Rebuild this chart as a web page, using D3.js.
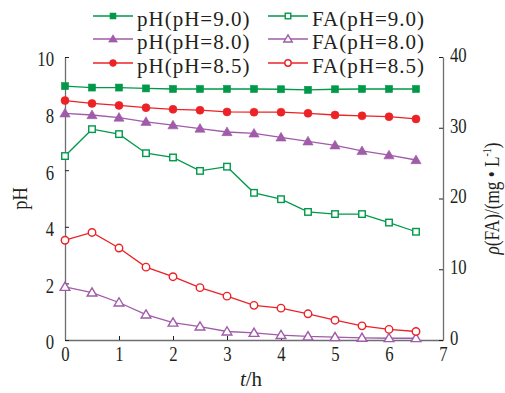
<!DOCTYPE html>
<html>
<head>
<meta charset="utf-8">
<script src="https://cdn.jsdelivr.net/npm/d3@7"></script>
<style>
  body { margin: 0; background: #fff; }
  svg text { font-family: "Liberation Serif", "Times New Roman", Times, serif; fill: #231f20; }
</style>
</head>
<body>
<script>
// time points (h)
var hours = [0, 0.5, 1, 1.5, 2, 2.5, 3, 3.5, 4, 4.5, 5, 5.5, 6, 6.5];

// pH series (left axis)
var ph90 = [8.97, 8.92, 8.92, 8.89, 8.87, 8.87, 8.87, 8.87, 8.86, 8.84, 8.86, 8.87, 8.87, 8.87];
var ph80 = [8.01, 7.95, 7.86, 7.71, 7.59, 7.47, 7.35, 7.30, 7.16, 7.02, 6.88, 6.68, 6.53, 6.36];
var ph85 = [8.46, 8.36, 8.29, 8.21, 8.15, 8.12, 8.06, 8.05, 8.05, 8.01, 7.95, 7.92, 7.89, 7.81];

// FA concentration series (right axis, mg/L)
var fa90 = [26.0, 29.8, 29.1, 26.4, 25.8, 23.9, 24.5, 20.8, 19.9, 18.1, 17.8, 17.8, 16.6, 15.3];
var fa80 = [7.5, 6.7, 5.3, 3.6, 2.45, 1.9, 1.2, 1.0, 0.7, 0.5, 0.4, 0.3, 0.25, 0.25];
var fa85 = [14.1, 15.2, 13.0, 10.3, 8.95, 7.4, 6.2, 4.9, 4.5, 3.7, 2.8, 2.0, 1.5, 1.2];

var xTicks = [0, 1, 2, 3, 4, 5, 6, 7];
var phTicks = [0, 2, 4, 6, 8, 10];
var faTicks = [0, 10, 20, 30, 40];

var green = "#00994a", purple = "#a05ba9", red = "#ec2227", axisColor = "#6d6e71";

var W = 505, H = 393;
var margin = { top: 57, right: 62, bottom: 53, left: 65 },
    width = W - margin.left - margin.right,
    height = H - margin.top - margin.bottom;

var svg = d3.select("body").append("svg")
  .attr("width", W).attr("height", H);

var g = svg.append("g")
  .attr("transform", "translate(" + margin.left + "," + margin.top + ")");

var x = d3.scaleLinear().domain([0, 7]).range([0, width]);
var yL = d3.scaleLinear().domain([0, 10]).range([height, 0]);
var yR = d3.scaleLinear().domain([0, 40]).range([height, 0]);

// tick labels in the reference use a narrow serif face: squeeze horizontally
var squeeze = 0.76;
function styleAxis(sel) {
  sel.attr("font-family", null);
  sel.select(".domain").attr("stroke", axisColor).attr("stroke-width", 1.3);
  sel.selectAll(".tick line").attr("stroke", "#231f20").attr("stroke-width", 1);
  sel.selectAll(".tick text")
    .style("font-size", "22px")
    .attr("fill", "#231f20")
    .attr("x", function () { return +d3.select(this).attr("x") / squeeze; })
    .attr("transform", "scale(" + squeeze + ",1)");
}

g.append("g")
  .attr("transform", "translate(0," + height + ")")
  .call(d3.axisBottom(x).tickValues(xTicks).tickFormat(d3.format("d")).tickSizeInner(-4).tickSizeOuter(0).tickPadding(5))
  .call(styleAxis);

var lAxis = g.append("g")
  .call(d3.axisLeft(yL).tickValues(phTicks).tickFormat(d3.format("d")).tickSizeInner(-4).tickSizeOuter(0).tickPadding(11))
  .call(styleAxis);
lAxis.selectAll(".tick text").attr("dy", "0.4em");

var rAxis = g.append("g")
  .attr("transform", "translate(" + width + ",0)")
  .call(d3.axisRight(yR).tickValues(faTicks).tickFormat(d3.format("d")).tickSizeInner(-4).tickSizeOuter(0).tickPadding(7))
  .call(styleAxis);
rAxis.selectAll(".tick text").attr("dy", "0.2em");

// axis titles
svg.append("text")
  .attr("transform", "translate(27," + (margin.top + height / 2) + ") rotate(-90) scale(0.88,1)")
  .attr("text-anchor", "middle")
  .style("font-size", "21px")
  .text("pH");

var rt = svg.append("text")
  .attr("transform", "translate(499," + (margin.top + height / 2) + ") rotate(-90) scale(0.82,1)")
  .attr("text-anchor", "middle")
  .style("font-size", "21px");
rt.append("tspan").style("font-style", "italic").text("ρ");
rt.append("tspan").text("(FA)/(mg ");
rt.append("tspan").text("•");
rt.append("tspan").text(" L");
rt.append("tspan").attr("dy", -8).style("font-size", "12px").text("-1");
rt.append("tspan").attr("dy", 8).text(")");

var xt = svg.append("text")
  .attr("x", margin.left + width / 2 - 3).attr("y", 386)
  .attr("text-anchor", "middle")
  .style("font-size", "21px");
xt.append("tspan").style("font-style", "italic").text("t");
xt.append("tspan").text("/h");

// markers
function drawMarker(sel, shape, color, filled, s) {
  if (shape === "square") {
    sel.append("rect").attr("x", -s / 2).attr("y", -s / 2).attr("width", s).attr("height", s);
  } else if (shape === "circle") {
    sel.append("circle").attr("r", s / 2);
  } else {
    var h = s * 0.9;
    sel.append("path").attr("d", "M0," + (-h * 0.62) + "L" + (s / 2 + 0.6) + "," + (h * 0.45) + "L" + (-s / 2 - 0.6) + "," + (h * 0.45) + "Z");
  }
  sel.selectAll("rect,circle,path")
    .attr("fill", filled ? color : "#fff")
    .attr("stroke", color)
    .attr("stroke-width", filled ? 0.6 : 1.4);
}

var series = [
  { name: "FA(pH=9.0)", vals: fa90, y: yR, color: green, shape: "square", filled: false, size: 6.5 },
  { name: "FA(pH=8.0)", vals: fa80, y: yR, color: purple, shape: "triangle", filled: false, size: 8.5 },
  { name: "FA(pH=8.5)", vals: fa85, y: yR, color: red, shape: "circle", filled: false, size: 7.5 },
  { name: "pH(pH=9.0)", vals: ph90, y: yL, color: green, shape: "square", filled: true, size: 7 },
  { name: "pH(pH=8.0)", vals: ph80, y: yL, color: purple, shape: "triangle", filled: true, size: 9 },
  { name: "pH(pH=8.5)", vals: ph85, y: yL, color: red, shape: "circle", filled: true, size: 8 }
];

series.forEach(function (s) {
  var pts = hours.map(function (t, i) { return [t, s.vals[i]]; });
  g.append("path")
    .datum(pts)
    .attr("fill", "none")
    .attr("stroke", s.color)
    .attr("stroke-width", 1.3)
    .attr("d", d3.line().x(function (d) { return x(d[0]); }).y(function (d) { return s.y(d[1]); }));

  g.append("g").selectAll("g")
    .data(pts)
    .enter().append("g")
    .attr("transform", function (d) { return "translate(" + x(d[0]) + "," + s.y(d[1]) + ")"; })
    .each(function () { drawMarker(d3.select(this), s.shape, s.color, s.filled, s.size); });
});

// legend
var legendOrder = [
  [series[3], series[0]],
  [series[4], series[1]],
  [series[5], series[2]]
];
var colX = [93, 268], rowY = [16, 39, 63];
legendOrder.forEach(function (row, r) {
  row.forEach(function (s, c) {
    var lg = svg.append("g").attr("transform", "translate(" + colX[c] + "," + rowY[r] + ")");
    lg.append("line").attr("x1", 0).attr("x2", 40).attr("y1", 0).attr("y2", 0)
      .attr("stroke", s.color).attr("stroke-width", 1.3);
    var m = lg.append("g").attr("transform", "translate(20,0)");
    drawMarker(m, s.shape, s.color, s.filled, s.size * 0.85);
    lg.append("text").attr("x", 44).attr("y", 10)
      .style("font-size", "21px").style("letter-spacing", "1px").text(s.name);
  });
});
</script>
</body>
</html>
